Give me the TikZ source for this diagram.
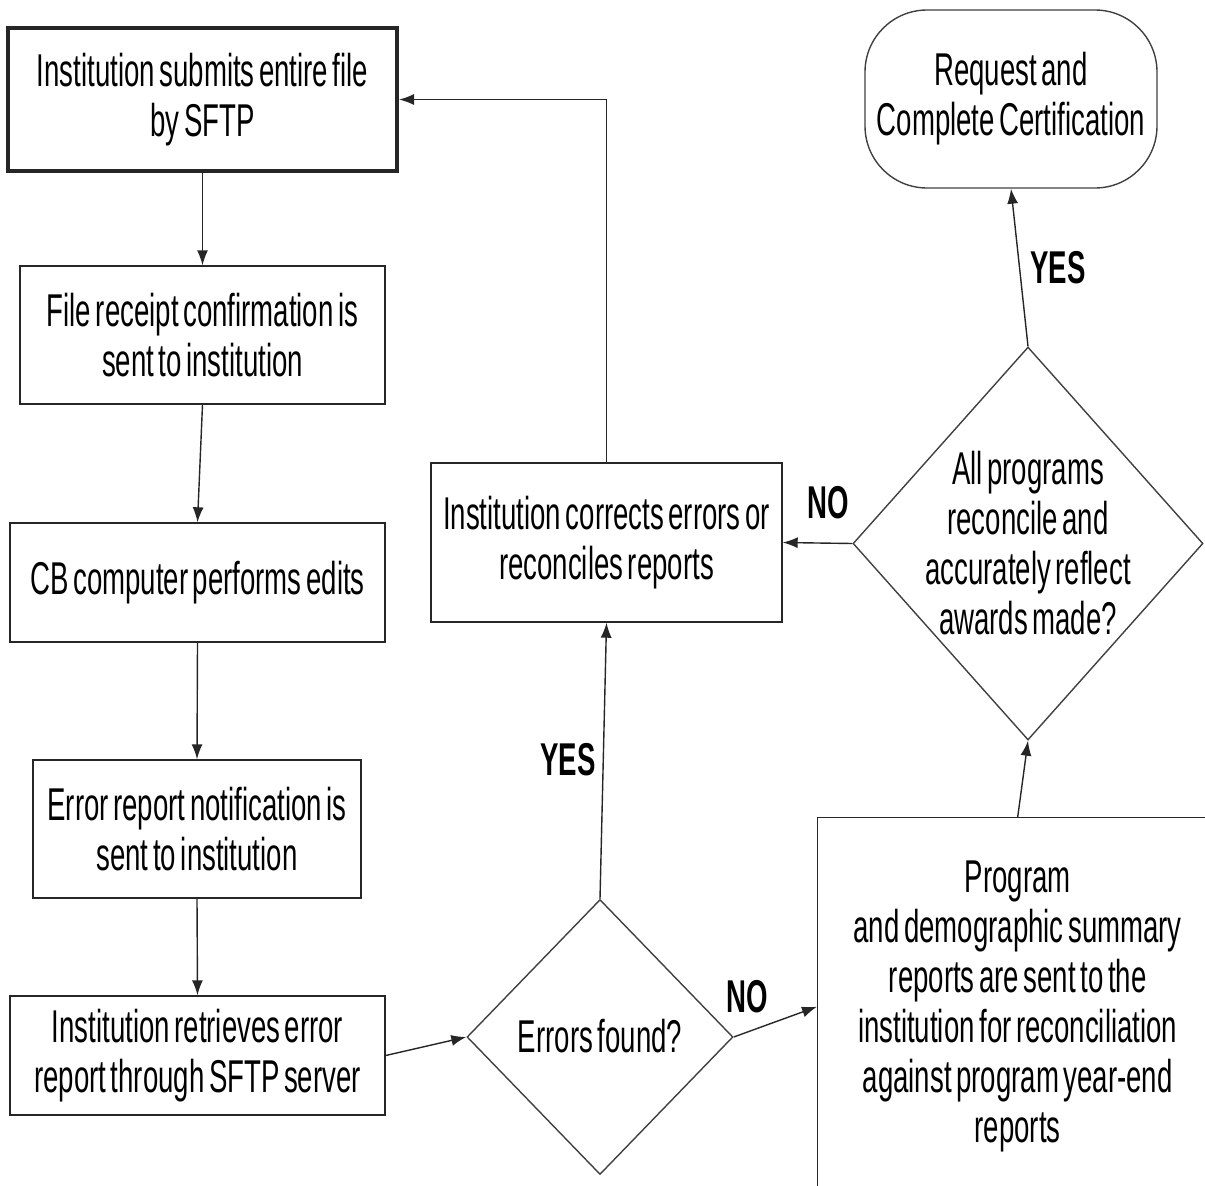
\documentclass[tikz,border=0pt]{standalone}
\usepackage{fontspec}
\setmainfont{Liberation Sans}[FakeStretch=0.6,WordSpace=0.6]
\usetikzlibrary{shapes.geometric,arrows.meta}

\newcommand{\flattext}[1]{\makebox[0pt]{\smash{\raisebox{-12pt}{\begin{tabular}{@{}c@{}}#1\end{tabular}}}}}

\tikzset{
	process/.style={draw=black!85, line width=1.4pt, align=center, inner sep=0pt},
	decision/.style={draw=black!75, line width=1.4pt, diamond, inner sep=0pt},
	terminal/.style={draw=black!75, line width=1.4pt, rounded corners=62pt, align=center, inner sep=0pt},
	flow/.style={draw=black!85, line width=1.4pt, -{Latex[length=15pt,width=11pt]}},
	answer/.style={font=\fontsize{46}{50}\selectfont\bfseries, inner sep=0pt}
}

\begin{document}
\begin{tikzpicture}[x=1pt, y=-1pt, font=\fontsize{46}{50}\selectfont]
	\clip (0,0) rectangle (1205,1186);

	\node[process, line width=4pt, minimum width=389pt, minimum height=143pt] (submit) at (202.5,99.5) {Institution submits entire file\\by SFTP};
	\node[process, minimum width=365pt, minimum height=138pt] (receipt) at (202.5,335) {File receipt confirmation is\\sent to institution};
	\node[process, minimum width=375pt, minimum height=119pt] (edits) at (197.5,582.5) {CB computer performs edits};
	\node[process, minimum width=328pt, minimum height=138pt] (notify) at (197,829) {Error report notification is\\sent to institution};
	\node[process, minimum width=375pt, minimum height=119pt] (retrieve) at (197.5,1055.5) {Institution retrieves error\\report through SFTP server};

	\node[decision, minimum width=266pt, minimum height=275pt] (found) at (600,1037) {\flattext{Errors found?}};
	\node[process, minimum width=351pt, minimum height=159pt] (correct) at (606.5,542.5) {Institution corrects errors or\\reconciles reports};
	\node[process, anchor=north west, minimum width=400pt, minimum height=378pt] (summary) at (817,817) {Program\\and demographic summary\\reports are sent to the\\institution for reconciliation\\against program year-end\\reports};
	\node[decision, minimum width=350pt, minimum height=393pt] (reconcile) at (1028,543.5) {\flattext{All programs\\reconcile and\\accurately reflect\\awards made?}};
	\node[terminal, minimum width=292pt, minimum height=178pt] (certify) at (1011,99) {Request and\\Complete Certification};

	\draw[flow] (submit.south) -- (receipt.north);
	\draw[flow] (receipt.south) -- (edits.north);
	\draw[flow] (edits.south) -- (notify.north);
	\draw[flow] (notify.south) -- (retrieve.north);
	\draw[flow] (retrieve.east) -- (found.west);
	\draw[flow] (found.north) -- (correct.south);
	\draw[flow] (found.east) -- (summary.west);
	\draw[flow] (correct.north) |- (submit.east);
	\draw[flow] (summary.north) -- (reconcile.south);
	\draw[flow] (reconcile.west) -- (correct.east);
	\draw[flow] (reconcile.north) -- (certify.south);

	\node[answer] (yesfix) at (568,760) {YES};
	\node[answer] (nosum) at (747,997) {NO};
	\node[answer] (nofix) at (828,503) {NO};
	\node[answer] (yesdone) at (1058,268) {YES};
\end{tikzpicture}
\end{document}
